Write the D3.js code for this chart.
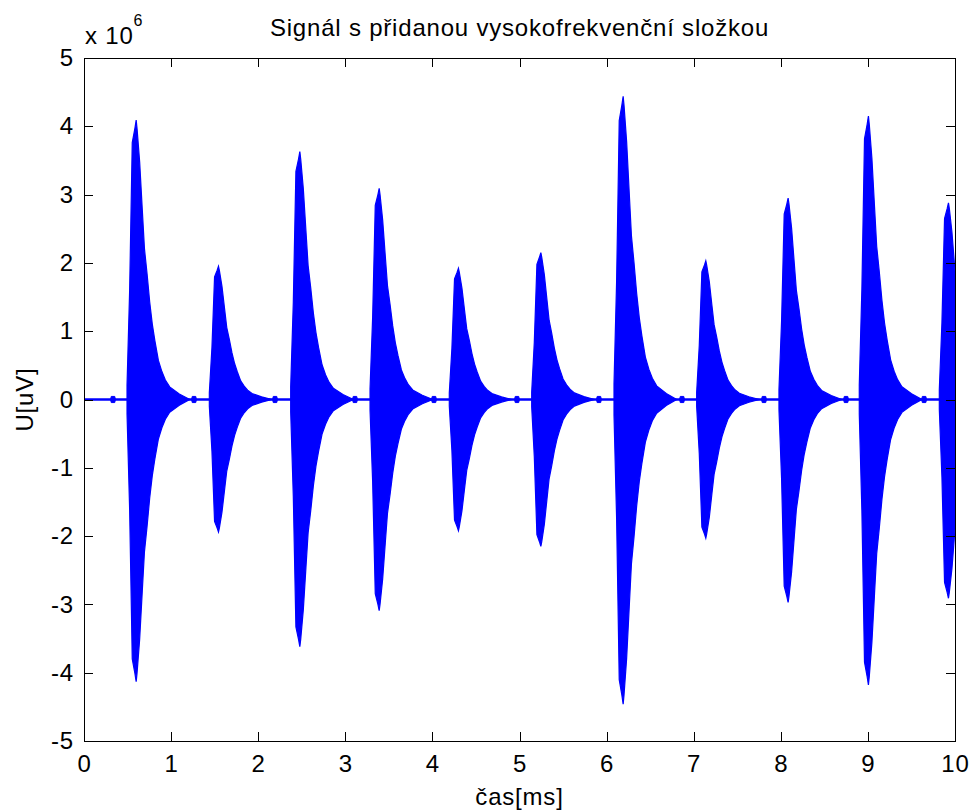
<!DOCTYPE html>
<html>
<head>
<meta charset="utf-8">
<script src="https://cdn.jsdelivr.net/npm/d3@7"></script>
<style>
  html, body { margin: 0; padding: 0; background: #fff; }
  svg { display: block; }
  text { font-family: "Liberation Sans", Arial, sans-serif; fill: #000; }
</style>
</head>
<body>
<svg id="chart" width="970" height="811"></svg>
<script>
// ---- data (values in units of 10^6 uV, time in ms) ----
const xTicks = [0, 1, 2, 3, 4, 5, 6, 7, 8, 9, 10];
const yTicks = [-5, -4, -3, -2, -1, 0, 1, 2, 3, 4, 5];

// onset time of each high-frequency burst
const burstStart   = [0.494, 1.439, 2.373, 3.284, 4.194, 5.140, 6.085, 7.034, 7.979, 8.901, 9.820];
// positive and negative peak of each burst
const burstPosPeak = [4.09, 1.95, 3.63, 3.09, 1.92, 2.15, 4.44, 2.03, 2.95, 4.15, 2.88];
const burstNegPeak = [-4.13, -1.94, -3.62, -3.09, -1.92, -2.15, -4.46, -2.03, -2.97, -4.18, -2.91];

// envelope of a burst: time after onset (ms) and relative level
const envOffset = [0, 0.03, 0.06, 0.09, 0.105, 0.115, 0.145, 0.175, 0.20, 0.23, 0.26, 0.29, 0.32, 0.36, 0.40, 0.44, 0.49, 0.60, 0.72];
const envLevel  = [0.05, 0.39, 0.92, 0.97, 1.0, 0.97, 0.85, 0.68, 0.54, 0.45, 0.35, 0.27, 0.21, 0.14, 0.10, 0.07, 0.045, 0.02, 0];

// small blips on the baseline before each burst
const blipTimes = [0.333, 1.263, 2.193, 3.111, 4.018, 4.971, 5.912, 6.866, 7.807, 8.749, 9.645];
const blipAmp   = [0.045, 0.045, 0.045, 0.045, 0.045, 0.045, 0.045, 0.045, 0.045, 0.045, 0.045];

const titleText = "Signál s přidanou vysokofrekvenční složkou";
const xLabel = "čas[ms]";
const yLabel = "U[uV]";

// ---- layout ----
const svg = d3.select("#chart");
const L = 84, R = 955, T = 58, B = 741;
const x = d3.scaleLinear().domain([0, 10]).range([L, R]);
const y = d3.scaleLinear().domain([-5, 5]).range([B, T]);
const FS = 24, LS = "0.8px";
const blue = "#0000ff";
const fmt = d => String(d);

svg.append("rect").attr("width", 970).attr("height", 811).attr("fill", "#fff");

svg.append("defs").append("clipPath").attr("id", "clip")
  .append("rect").attr("x", L).attr("y", T).attr("width", R - L).attr("height", B - T);

const plot = svg.append("g").attr("clip-path", "url(#clip)");

// baseline
plot.append("path")
  .datum([0, 10])
  .attr("d", d3.line().x(d => x(d)).y(() => y(0)))
  .attr("stroke", blue).attr("stroke-width", 2.5).attr("fill", "none");

// blips
const area = d3.area().x(d => x(d.t)).y0(d => y(d.lo)).y1(d => y(d.hi));
blipTimes.forEach((t, i) => {
  const a = blipAmp[i];
  const pts = [
    {t: t - 0.028, lo: 0, hi: 0},
    {t: t - 0.02, lo: -a, hi: a},
    {t: t + 0.02, lo: -a, hi: a},
    {t: t + 0.028, lo: 0, hi: 0}
  ];
  plot.append("path").datum(pts).attr("d", area)
    .attr("fill", blue).attr("stroke", blue).attr("stroke-width", 1);
});

// bursts
burstStart.forEach((t0, i) => {
  const pts = envOffset.map((o, k) => ({
    t: t0 + o,
    hi: burstPosPeak[i] * envLevel[k],
    lo: burstNegPeak[i] * envLevel[k]
  }));
  plot.append("path").datum(pts).attr("d", area)
    .attr("fill", blue).attr("stroke", blue).attr("stroke-width", 1.2)
    .attr("stroke-linejoin", "miter");
});

// ---- axes ----
function styleAxis(g) {
  g.selectAll("path, line").attr("stroke", "#000").attr("stroke-width", 1)
    .attr("shape-rendering", "crispEdges");
  g.selectAll("text").attr("font-size", FS).attr("letter-spacing", LS)
    .attr("font-family", "Liberation Sans, Arial, sans-serif").attr("fill", "#000");
}

svg.append("g").attr("transform", `translate(0,${B})`)
  .call(d3.axisBottom(x).tickValues(xTicks).tickFormat(fmt).tickSize(-9).tickSizeOuter(0).tickPadding(14))
  .call(styleAxis);
svg.append("g").attr("transform", `translate(0,${T})`)
  .call(d3.axisTop(x).tickValues(xTicks).tickFormat("").tickSize(-9).tickSizeOuter(0))
  .call(styleAxis);
svg.append("g").attr("transform", `translate(${L},0)`)
  .call(d3.axisLeft(y).tickValues(yTicks).tickFormat(fmt).tickSize(-9).tickSizeOuter(0).tickPadding(10))
  .call(styleAxis);
svg.append("g").attr("transform", `translate(${R},0)`)
  .call(d3.axisRight(y).tickValues(yTicks).tickFormat("").tickSize(-9).tickSizeOuter(0))
  .call(styleAxis);

// ---- texts ----
svg.append("text").attr("x", (L + R) / 2).attr("y", 36)
  .attr("text-anchor", "middle").attr("font-size", FS).attr("letter-spacing", LS)
  .text(titleText);

svg.append("text").attr("x", (L + R) / 2).attr("y", 805)
  .attr("text-anchor", "middle").attr("font-size", FS).attr("letter-spacing", LS)
  .text(xLabel);

svg.append("text").attr("transform", `translate(33,${(T + B) / 2}) rotate(-90)`)
  .attr("text-anchor", "middle").attr("font-size", FS).attr("letter-spacing", LS)
  .text(yLabel);

const mult = svg.append("text").attr("x", 85).attr("y", 44)
  .attr("font-size", FS).attr("letter-spacing", LS);
mult.append("tspan").text("x 10");
mult.append("tspan").attr("font-size", 16).attr("dy", -18).text("6");
</script>
</body>
</html>
